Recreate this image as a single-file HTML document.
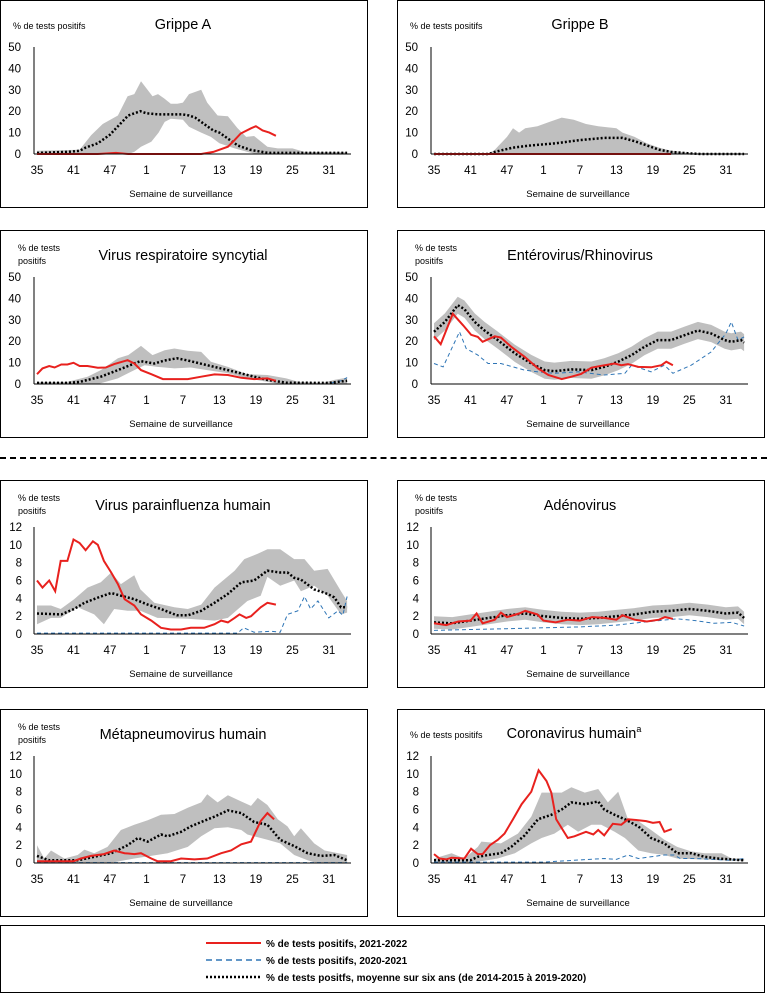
<!DOCTYPE html>
<html><head><meta charset="utf-8">
<style>
body{margin:0;background:#fff;width:767px;height:994px;position:relative;overflow:hidden;font-family:"Liberation Sans",sans-serif}
.p{position:absolute;width:368px;height:208px;border:1px solid #000;box-sizing:border-box}
svg{position:absolute;left:0;top:0}
#leg{position:absolute;left:0;top:925px;width:765px;height:68px;border:1px solid #000;box-sizing:border-box}
</style></head><body>
<div id="root"></div>
<div style="position:absolute;left:0;top:457px;width:767px;height:0;border-top:2px dashed #000"></div>
<div id="leg">
<svg width="765" height="68">
<line x1="205" y1="17" x2="260" y2="17" stroke="#e8211e" stroke-width="2"/>
<line x1="205" y1="34" x2="260" y2="34" stroke="#2e75b6" stroke-width="1.5" stroke-dasharray="6 4"/>
<line x1="205" y1="51" x2="260" y2="51" stroke="#000" stroke-width="2.5" stroke-dasharray="2 2"/>
<g font-size="10" font-weight="bold" fill="#000">
<text x="265" y="21">% de tests positifs, 2021-2022</text>
<text x="265" y="38">% de tests positifs, 2020-2021</text>
<text x="265" y="55">% de tests positfs, moyenne sur six ans (de 2014-2015 à 2019-2020)</text>
</g></svg></div>
<script>
const P=[
{x:0,y:0,t:"Grippe A",two:false,max:50,
hi:[[0,1.5],[7,2],[8.9,8.8],[10.8,14],[13.3,18],[14.9,27],[16,28],[17.1,34],[19,27],[19.9,28],[20.9,26],[22,23.5],[23.1,23.5],[24,24],[25,28],[27,30],[28,24],[29.7,18],[31.4,17.6],[33,12],[34.4,8],[35.7,8.4],[37.9,3.4],[39.6,2.6],[42,2.6],[44,1],[51,0.8]],
lo:[[0,0],[15,0],[16,1],[17.1,3.4],[18.8,5.7],[20,10],[21,15],[22,16.5],[24,16],[25,12.7],[27,10],[28.6,8],[30,5],[32.5,2.6],[34.6,1],[36,0],[51,0]],
mean:[[0,0.5],[5,1],[7,1.5],[8,3],[10,5],[11,7],[12,9],[13,12],[14,15],[15,18],[17,20],[18,19],[20,18.5],[24,18.5],[25,18],[26,17],[27,15],[28,13],[29,11],[30,10],[31,8],[32,6],[33,4],[34,3],[35,2],[36,1.5],[37,1],[38,0.5],[51,0.5]],
red:[[0,0],[10,0],[13,0.5],[15,0],[27,0],[29,1],[31.4,3.4],[32.5,6.5],[33.5,9.6],[35.2,12],[36,13],[37.1,11],[38.2,10],[39.3,8.5]],
blue:[[0,0],[51,0]]},
{x:397,y:0,t:"Gripe B".replace("Gripe","Grippe"),two:false,max:50,
hi:[[0,0],[9,0],[10,2],[12,8],[13,12],[14,10],[15,12],[17,13],[19,15],[21,17],[23,16],[25,14],[27,13],[30,12],[31,10],[33,8],[35,5],[37,3],[39,1.5],[42,0.5],[44,0],[51,0]],
lo:[[0,0],[51,0]],
mean:[[0,0],[9,0],[10,1],[13,3],[16,4],[20,5],[24,6.5],[28,7.5],[31,7.5],[33,6],[35,4],[37,2],[39,1],[42,0.3],[44,0],[51,0]],
red:[[0,0],[39,0]],blue:[[0,0],[51,0]]},
{x:0,y:230,t:"Virus respiratoire syncytial",two:true,max:50,
hi:[[0,1],[5,1],[8.3,3.4],[10.5,6.5],[13.3,12],[15,13.5],[17.1,17.8],[19,13.5],[21,15.8],[22.6,16.6],[24.8,15.5],[27,15],[28.6,10.4],[31.4,8],[34.6,4.6],[37.9,4.2],[41,2.6],[43,1],[47,0.5],[49,2],[51,3]],
lo:[[0,0],[10,0],[13.3,2.6],[16,6.5],[17.7,8.8],[19.8,8],[22.6,7.3],[25.3,7.7],[28,6.5],[31.4,5],[34.6,2.6],[37.9,1],[40,0],[51,0]],
mean:[[0,0.5],[5,0.5],[7,1],[10.5,3.4],[13.3,6.5],[16,9.6],[17,10.7],[19.3,9.6],[21,11],[23,12],[24.8,11],[28,8.8],[31.4,6.5],[34.6,4.2],[37.9,1.9],[41,0.6],[48,0.5],[51,1.5]],
red:[[0,4.6],[0.9,7.3],[2,8.4],[2.9,7.7],[4,9.1],[5,9.1],[6,9.9],[7,8.4],[8.3,8.4],[10,7.6],[11.3,7.7],[12.7,9.3],[14.9,11.1],[16,9.6],[17.1,6.5],[18.8,4.6],[20.7,2.3],[24.8,2.3],[27,3.4],[29.2,4.5],[31.4,4.2],[33.6,2.9],[35.7,2.3],[37.9,2.6],[39.3,1.5]],
blue:[[0,0],[48,0],[49,1],[50,1.5],[51,3]]},
{x:397,y:230,t:"Entérovirus/Rhinovirus",two:true,max:50,band:4,
mean:[[0,24.4],[1.8,29],[3.9,36.8],[5,35],[6.7,29],[8.3,25],[10.5,20.5],[13.3,14.3],[16,9.6],[18.2,6.5],[19.8,6],[22.6,6.8],[25.9,6.5],[28,8],[30.3,10.4],[32.5,13.5],[34.6,17.4],[36.8,20.5],[39,20.5],[41.2,22.8],[43.4,25],[45.6,23.6],[47.8,20.5],[48.9,19.7],[50.5,20.5],[51,19.3]],
red:[[0,22.3],[1.1,18.6],[3.1,32.8],[4.8,27.4],[6.1,23],[7.2,22],[8,19.7],[10,22.3],[11,21.7],[12.7,17.4],[14.9,12.7],[17.1,7.3],[18.8,4.2],[21,2.3],[22.6,3.4],[24.2,4.7],[25.9,7.6],[27.5,8.5],[29.7,9.6],[30.8,8.8],[31.9,9.3],[33.6,8],[35.7,7.8],[37.4,8.8],[38.2,10.4],[39.3,8.8]],
blue:[[0,9.6],[1.5,8],[4.2,24.4],[5.3,16.6],[7.2,13.5],[8.9,9.6],[11,9.6],[14.9,6.5],[17,5.7],[19.8,5],[23.7,5.7],[28,4.2],[31.4,5],[32.5,8.8],[35.7,5.7],[37.9,8.8],[39.3,5],[42.3,8.8],[45.6,15],[48,23.5],[48.9,29],[50,20.5],[51,22]]},
{x:0,y:480,t:"Virus parainfluenza humain",two:true,max:12,
hi:[[0,3.2],[2.3,3.2],[3.9,2.8],[6.1,3.9],[8.3,5.2],[10.5,5.8],[12.2,6.9],[13.8,5.6],[16,6.6],[17,5],[19.3,3.5],[22.6,3],[24.8,2.8],[27,3.3],[29.2,5.2],[32.5,7.1],[34.1,8.4],[36.3,9],[37.9,9.5],[40,9.5],[42.3,8.4],[44,8.4],[45.6,7.1],[47.8,7.3],[50,4.8],[51,3.7]],
lo:[[0,1.1],[2.3,1.8],[3.9,1.8],[6.7,3],[9.4,2.2],[11,1.1],[12.7,2.8],[14.9,2.6],[17,2.6],[19.8,1.8],[24.8,1.7],[29.2,1.5],[31.4,1.8],[34.6,3.7],[36.8,4.3],[37.9,6.4],[40,5.4],[42.3,6],[43.4,4.8],[45.6,5.4],[47.8,4.3],[50,2.2],[51,2.4]],
mean:[[0,2.3],[4,2.2],[6.1,2.8],[7.8,3.5],[10.5,4.2],[12.2,4.6],[13.8,4.3],[16,3.9],[18.2,3.3],[20.4,2.8],[23,2.1],[24.8,2.1],[27,2.6],[29.2,3.5],[31.4,4.5],[33.6,5.8],[35.7,6],[37.9,7.1],[40,6.9],[41.2,6.9],[42.3,6.3],[43.4,6.1],[45.6,5],[47.8,4.5],[48.9,4.1],[50,3],[51,3]],
red:[[0,6],[0.9,5.2],[2,6],[3,4.8],[3.9,8.2],[5,8.2],[6,10.6],[7,10.2],[8,9.4],[9.2,10.4],[10,10],[11,8.2],[12.2,6.9],[13.3,5.6],[14.4,3.9],[16,3.2],[17.1,2.2],[18.8,1.5],[20.4,0.7],[22,0.5],[23.7,0.5],[25.3,0.7],[27.5,0.7],[29.2,1.1],[30.3,1.5],[31.4,1.3],[32.5,1.8],[33.3,2.2],[34.4,1.8],[35.2,2],[36.8,3],[37.9,3.5],[39.3,3.3]],
blue:[[0,0.1],[33,0.1],[34,0.7],[35.7,0.2],[38.5,0.3],[40,0.2],[41.2,2.2],[42.9,2.6],[44,4.2],[45,2.8],[46.2,3.7],[48,1.8],[49.5,2.6],[50.3,2.1],[51,4.2]]},
{x:397,y:480,t:"Adénovirus",two:true,max:12,band:0.7,
mean:[[0,1.3],[3,1.2],[6,1.5],[9,1.8],[12,2.1],[15,2.3],[18,2],[21,1.8],[24,1.7],[27,1.8],[30,2],[33,2.2],[36,2.5],[39,2.6],[42,2.8],[45,2.6],[48,2.3],[50,2.4],[51,1.8]],
red:[[0,1.2],[2,1],[4,1.4],[6,1.5],[7,2.3],[8,1.2],[10,1.6],[11,2.4],[12,1.9],[14,2.3],[15,2.6],[17,2.2],[18,1.5],[20,1.3],[22,1.6],[24,1.5],[26,1.9],[28,1.8],[30,1.6],[31,2.1],[33,1.6],[35,1.4],[37,1.6],[38,1.9],[39.3,1.7]],
blue:[[0,0.4],[6,0.5],[12,0.6],[18,0.7],[24,0.8],[30,1],[34,1.3],[37,1.5],[40,1.7],[43,1.5],[46,1.2],[49,1.3],[51,0.9]]},
{x:0,y:709,t:"Métapneumovirus  humain",two:true,max:12,
hi:[[0,2],[1.2,0.5],[2.3,1.4],[4.5,0.5],[6.7,0.9],[7.8,1.5],[9.4,1.1],[11.6,1.8],[13.8,3.7],[16,4.3],[18.2,4.8],[20.4,5.4],[22.6,5.5],[24.8,6.2],[27,6.8],[28,7.7],[29.7,6.8],[31.4,7.6],[33.6,6.9],[35.2,6.4],[36.3,7.3],[37.9,6.5],[39.6,4.9],[41.2,4.1],[42.3,3],[43.4,3.9],[45.6,2.2],[47.3,1.4],[51,0.9]],
lo:[[0,0],[12,0],[16,0.5],[21.5,1.1],[24.8,1.8],[27,3],[29.2,3.9],[31.4,4],[33.6,3.7],[34.6,3.2],[36.8,2.8],[37.9,2.6],[40,2.2],[42.3,0.9],[44.5,0.3],[46,0],[51,0]],
mean:[[0,0.8],[2,0.3],[6.7,0.3],[9.4,0.7],[12.2,1.1],[14.9,2],[16.6,2.8],[18.2,2.4],[20.4,3.2],[21.5,3],[23.7,3.5],[25.3,4.1],[27,4.6],[29.2,5.2],[31.4,5.9],[33.6,5.6],[35.7,4.6],[37.9,4.3],[40,2.6],[42.3,1.9],[44.5,1.1],[46.7,0.8],[48.9,0.9],[51,0.3]],
red:[[0,0.2],[6,0.2],[7.2,0.5],[8.9,0.8],[11,1],[12.7,1.4],[14.4,1.1],[16,1],[17.1,1.1],[18.8,0.5],[19.8,0.2],[22,0.2],[23.7,0.5],[25.9,0.4],[28,0.5],[30.3,1.1],[31.9,1.4],[33.6,2.1],[35.2,2.4],[36.8,4.7],[37.9,5.6],[39,4.9]],
blue:[[0,0.05],[51,0.05]]},
{x:397,y:709,t:"Coronavirus humain",sup:true,two:false,max:12,
hi:[[0,0.5],[2.9,1.1],[5,0.5],[7.2,1.8],[7.8,2.4],[11,2.2],[13.8,3.3],[16,5.2],[17.7,7.9],[21,7.9],[22.6,8.5],[24.8,7.9],[27,8.3],[28.6,6.8],[30.3,8],[31.9,4.9],[33.6,4.7],[35.7,3.7],[37.9,2.6],[40,1.8],[42.3,1.3],[44.5,1.1],[47.3,1.1],[49,0.5],[51,0.5]],
lo:[[0,0],[6,0],[10.5,0.5],[13.3,1.1],[16,2.2],[17.7,2.8],[19.8,3.3],[22,4.3],[23.7,3.5],[25.9,4.3],[27.5,4.3],[29.7,3.5],[31.4,2.8],[33.6,1.4],[35.7,1.1],[37.9,0.9],[40,0.5],[51,0.2]],
mean:[[0,0.3],[6,0.3],[7.2,0.7],[8.9,0.9],[11,1.1],[12.7,1.8],[14.9,3.1],[17.1,4.9],[19.3,5.4],[21,6],[22.6,6.8],[24.8,6.6],[27,6.9],[28,6],[29.7,5.4],[31.4,4.9],[33.6,4.1],[35.7,2.8],[37.9,2.2],[40,1.1],[42.3,1.1],[44.5,0.7],[46.7,0.5],[51,0.3]],
red:[[0,1],[0.9,0.5],[2,0.4],[2.9,0.6],[5,0.5],[6.1,1.6],[7.2,1],[8,1],[9.2,2],[10.5,2.6],[11.6,3.3],[13,4.9],[14.4,6.6],[16,8],[17.2,10.4],[18.5,9.2],[19.3,7.9],[20.1,4.9],[22,2.8],[23.1,3],[25,3.5],[26.2,3.2],[27,3.7],[28,3.1],[29.4,4.4],[30.8,4.3],[31.9,4.9],[33.6,4.8],[34.9,4.7],[36,4.5],[37.1,4.6],[37.9,3.5],[39.1,3.8]],
blue:[[0,0.1],[18,0.1],[28,0.5],[30,0.4],[31.9,0.9],[33.6,0.5],[35.7,0.7],[37.9,0.9],[39.5,0.9],[40.5,0.5],[43,0.5],[48.9,0.3],[51,0.5]]}
];
const X0=36,DX=6.08,Y0=153,H=107;
function px(i){return X0+i*DX}
function py(v,m){return Y0-v/m*H}
function pts(a,m){return a.map(p=>px(p[0]).toFixed(1)+","+py(p[1],m).toFixed(1)).join(" ")}
let html="";
P.forEach(p=>{
 const m=p.max;let s=`<div class="p" style="left:${p.x}px;top:${p.y}px"><svg width="368" height="208" font-family="Liberation Sans, sans-serif">`;
 let hi=p.hi,lo=p.lo;
 if(p.band){hi=p.mean.map(q=>[q[0],q[1]+p.band]);lo=p.mean.map(q=>[q[0],Math.max(0,q[1]-p.band)]);}
 s+=`<polygon points="${pts(hi,m)} ${pts(lo.slice().reverse(),m)}" fill="#bfbfbf"/>`;
 s+=`<polyline points="${pts(p.blue,m)}" fill="none" stroke="#2e75b6" stroke-width="1" stroke-dasharray="4 3"/>`;
 s+=`<polyline points="${pts(p.mean,m)}" fill="none" stroke="#000" stroke-width="2.5" stroke-dasharray="2 2"/>`;
 s+=`<polyline points="${pts(p.red,m)}" fill="none" stroke="#e8211e" stroke-width="2"/>`;
 s+=`<line x1="33" y1="46" x2="33" y2="153" stroke="#000"/><line x1="33" y1="153" x2="350" y2="153" stroke="#000"/>`;
 for(let k=0;k<=5;k++){const v=m==50?k*10:k*2;if(m==12&&k==5){}
 }
 const ticks=m==50?[0,10,20,30,40,50]:[0,2,4,6,8,10,12];
 ticks.forEach(v=>{s+=`<text x="${m==50?20:21}" y="${py(v,m)+4}" font-size="11.5" text-anchor="end">${v}</text>`});
 [35,41,47,1,7,13,19,25,31].forEach((w,j)=>{s+=`<text x="${px(j*6)}" y="173" font-size="11.5" text-anchor="middle">${w}</text>`});
 s+=`<text x="180" y="196" font-size="9.5" text-anchor="middle">Semaine de surveillance</text>`;
 if(p.two){s+=`<text x="17" y="20" font-size="9">% de tests</text><text x="17" y="33" font-size="9">positifs</text>`;}
 else{s+=`<text x="12" y="28" font-size="9">% de tests positifs</text>`;}
 s+=`<text x="${p.sup?176:182}" y="${p.two?29:28}" font-size="14.5" text-anchor="middle">${p.t}${p.sup?'<tspan font-size="9" dy="-6">a</tspan>':''}</text>`;
 s+=`</svg></div>`;html+=s;
});
document.getElementById("root").innerHTML=html;
</script>
</body></html>
